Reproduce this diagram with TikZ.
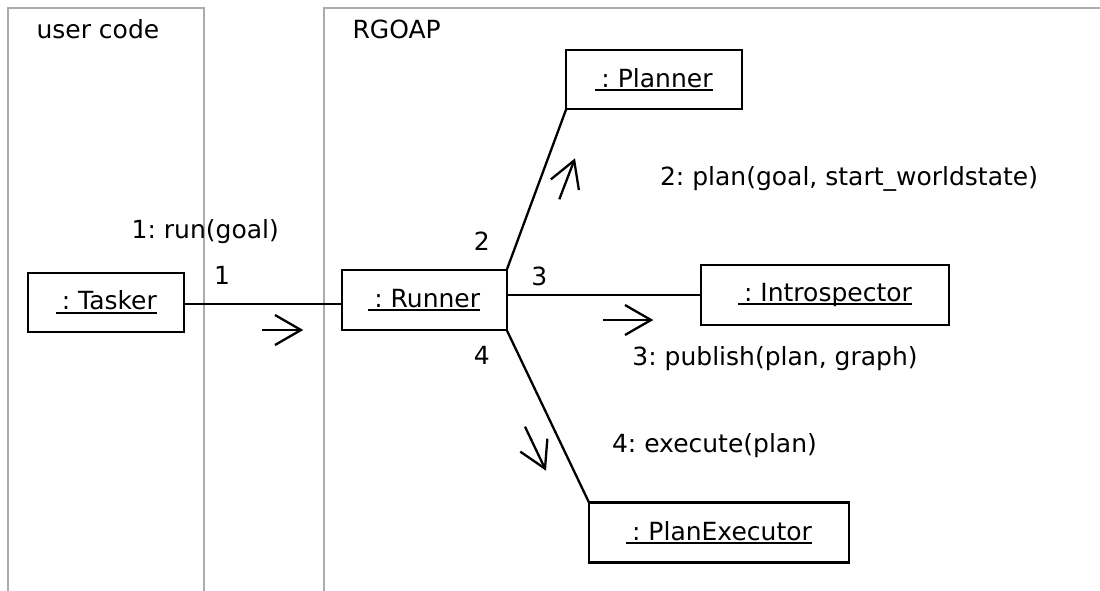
\documentclass[tikz,border=0pt]{standalone}
\usepackage{fontspec}
\setmainfont{DejaVu Sans}
\usetikzlibrary{arrows.meta}
\frenchspacing

% object name, underlined at a fixed depth below the baseline
\newcommand{\objname}[1]{\setbox0\hbox{\kern6pt#1}\rlap{\rule[-3.7pt]{\wd0}{2pt}}\box0}

\begin{document}
\begin{tikzpicture}[x=1pt,y=-1pt,
  every node/.style={inner sep=0pt,outer sep=0pt,font=\fontsize{25}{30}\selectfont},
  frameline/.style={draw=black!33,line width=2.2pt},
  objbox/.style={draw,line width=2.3pt,minimum height=60pt},
  link/.style={line width=2.3pt},
  msg/.style={line width=2.3pt,-{Straight Barb[length=26pt,width=30pt,line width=2.3pt]}},
  lbl/.style={anchor=base west},
  endlbl/.style={anchor=base}]
\useasboundingbox[fill=white] (0,0) rectangle (1100,590);

% swimlane frames
\draw[frameline] (8,596) -- (8,8) -- (204,8) -- (204,596);
\draw[frameline] (324,596) -- (324,8) -- (1106,8);
\node[lbl] (lane1) at (36.5,38.3) {user code};
\node[lbl] (lane2) at (352.5,38.3) {RGOAP};

% objects
\node[objbox,minimum width=156pt,minimum height=59pt] (tasker) at (106.3,302.2) {\objname{: Tasker}};
\node[objbox,minimum width=165pt] (runner) at (424.2,300) {\objname{: Runner}};
\node[objbox,minimum width=175.5pt,minimum height=59pt] (planner) at (654,79.5) {\objname{: Planner}};
\node[objbox,minimum width=248pt] (introspector) at (825,295) {\objname{: Introspector}};
\node[objbox,minimum width=260pt] (executor) at (719,532.5) {\objname{: PlanExecutor}};

% links
\draw[link] (tasker.east |- 0,304.3) -- (runner.west |- 0,304.3);
\draw[link] (runner.north east) -- (planner.south west);
\draw[link] (runner.east |- introspector.west) -- (introspector.west);
\draw[link] (runner.south east) -- (executor.north west);

% link end numbers
\node[endlbl] (n1) at (222,284.3) {1};
\node[endlbl] (n2) at (481.7,250) {2};
\node[endlbl] (n3) at (539.3,285) {3};
\node[endlbl] (n4) at (481.7,364) {4};

% messages
\coordinate (m1a) at (262,330);   \coordinate (m1b) at (303.3,330);
\coordinate (m2a) at (559.3,199.3); \coordinate (m2b) at (575,158.3);
\coordinate (m3a) at (603.3,320); \coordinate (m3b) at (653.3,320);
\coordinate (m4a) at (525,426.7); \coordinate (m4b) at (546,470.7);
\draw[msg] (m1a) -- (m1b);
\draw[msg] (m2a) -- (m2b);
\draw[msg] (m3a) -- (m3b);
\draw[msg] (m4a) -- (m4b);

\node[lbl] (t1) at (131.7,238) {1: run(goal)};
\node[lbl] (t2) at (660,185) {2: plan(goal, start\_worldstate)};
\node[lbl] (t3) at (632.4,365) {3: publish(plan, graph)};
\node[lbl] (t4) at (612,452.3) {4: execute(plan)};
\end{tikzpicture}
\end{document}
